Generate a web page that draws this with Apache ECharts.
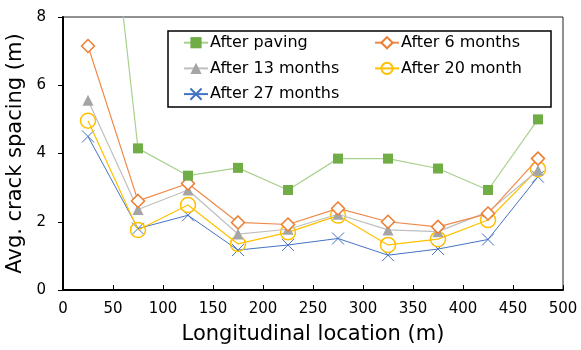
<!DOCTYPE html>
<html><head><meta charset="utf-8">
<script src="https://cdn.jsdelivr.net/npm/echarts@6/dist/echarts.min.js"></script>
<style>html,body{margin:0;padding:0;background:#fff}#c{width:581px;height:350px}</style>
</head><body><div id="c"></div>
<script>
const locations = [25, 75, 125, 175, 225, 275, 325, 375, 425, 475];
const afterPaving = [17.3, 4.15, 3.35, 3.58, 2.93, 3.85, 3.85, 3.56, 2.93, 5.0];
const after6 = [7.15, 2.61, 3.12, 1.98, 1.92, 2.39, 2.0, 1.85, 2.24, 3.85];
const after13 = [5.56, 2.36, 2.93, 1.64, 1.78, 2.22, 1.76, 1.71, 2.29, 3.51];
const after20 = [4.96, 1.76, 2.49, 1.35, 1.69, 2.18, 1.32, 1.49, 2.05, 3.54];
const after27 = [4.5, 1.8, 2.19, 1.17, 1.32, 1.51, 1.02, 1.2, 1.48, 3.32];
const seriesNames = ['After paving', 'After 6 months', 'After 13 months', 'After 20 month', 'After 27 months'];

const font = 'DejaVu Sans, sans-serif';
function pts(arr){ return locations.map((x,i)=>[x,arr[i]]); }
const crossPath = 'path://M0,0L10,10M10,0L0,10';
const legendText = {fontSize: 16, lineHeight: 16, color: '#000', fontFamily: font, padding: [0,0,0,-3]};

const chart = echarts.init(document.getElementById('c'));
chart.setOption({
  animation: false,
  textStyle: {fontFamily: font},
  grid: {left: 63, right: 18, top: 17, bottom: 60, show: true, borderColor: '#222', borderWidth: 1, outerBoundsMode: 'none', containLabel: false},
  xAxis: {
    type: 'value', min: 0, max: 500, interval: 50,
    name: 'Longitudinal location (m)', nameLocation: 'middle', nameGap: 34,
    nameTextStyle: {fontSize: 21, color: '#000', fontFamily: font},
    axisLine: {lineStyle: {color: '#000', width: 2}},
    axisTick: {inside: true, length: 5, lineStyle: {color: '#000'}},
    axisLabel: {fontSize: 15, color: '#000', margin: 12, fontFamily: font},
    splitLine: {show: false}
  },
  yAxis: {
    type: 'value', min: 0, max: 8, interval: 2,
    name: 'Avg. crack spacing (m)', nameLocation: 'middle', nameGap: 32,
    nameTextStyle: {fontSize: 21, color: '#000', fontFamily: font},
    axisLine: {show: true, lineStyle: {color: '#000', width: 2}},
    axisTick: {show: true, length: 5, lineStyle: {color: '#000'}},
    axisLabel: {fontSize: 15, color: '#000', margin: 17, fontFamily: font},
    splitLine: {show: false}
  },
  graphic: [{type: 'rect', shape: {x: 168, y: 31, width: 383, height: 76}, style: {fill: '#fff', stroke: '#000', lineWidth: 1.5}, z: 50}],
  legend: [
    {data: [seriesNames[0], seriesNames[2], seriesNames[4]], orient: 'vertical', left: 183, top: 34.7, padding: 0, itemGap: 9.7, itemWidth: 24, itemHeight: 14,
     textStyle: legendText, z: 60},
    {data: [seriesNames[1], seriesNames[3]], orient: 'vertical', left: 374, top: 34.7, padding: 0, itemGap: 9.7, itemWidth: 24, itemHeight: 14,
     textStyle: legendText, z: 60}
  ],
  series: [
    {name: seriesNames[0], type: 'line', data: pts(afterPaving), symbol: 'rect', symbolSize: 10,
     itemStyle: {color: '#70AD47'}, lineStyle: {color: '#A9D18E', width: 1.2}, z: 5},
    {name: seriesNames[1], type: 'line', data: pts(after6), symbol: 'diamond', symbolSize: 13,
     itemStyle: {color: '#fff', borderColor: '#ED7D31', borderWidth: 1.5}, lineStyle: {color: '#F08A4B', width: 1.2}, z: 4},
    {name: seriesNames[2], type: 'line', data: pts(after13), symbol: 'triangle', symbolSize: 11,
     itemStyle: {color: '#A5A5A5'}, lineStyle: {color: '#BFBFBF', width: 1.2}, z: 3},
    {name: seriesNames[3], type: 'line', data: pts(after20), symbol: 'circle', symbolSize: 15,
     itemStyle: {color: 'rgba(255,255,255,0)', borderColor: '#FFC000', borderWidth: 1.5}, lineStyle: {color: '#FFC000', width: 1.2}, z: 2},
    {name: seriesNames[4], type: 'line', data: pts(after27), symbol: crossPath, symbolSize: 12,
     itemStyle: {color: 'rgba(0,0,0,0)', borderColor: '#4472C4', borderWidth: 1}, lineStyle: {color: '#4472C4', width: 1}, z: 1}
  ]
});
</script></body></html>
